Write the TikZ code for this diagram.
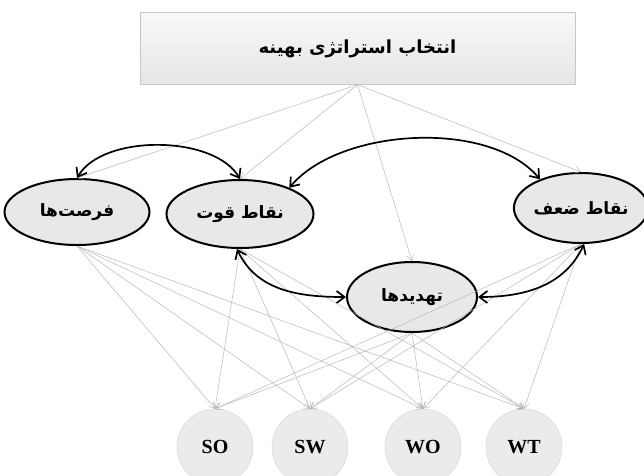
\documentclass[tikz,border=0pt]{standalone}
\usepackage{fontspec}
\usepackage{tikz}
\usetikzlibrary{shapes.geometric,arrows.meta}
\setmainfont{Liberation Serif}
\newfontfamily\farsi[Script=Arabic]{DejaVu Sans}
\TeXXeTstate=1
\newcommand{\Fa}[1]{{\farsi\bfseries\beginR #1\endR}}
\newcommand{\Row}{-447}
\newcommand{\Circ}{76pt}

\begin{document}
\begin{tikzpicture}[x=1pt,y=1pt,
  goal/.style={draw=gray!45,top color=gray!5,bottom color=gray!20,minimum width=435pt,minimum height=72pt},
  factor/.style={ellipse,draw=black,line width=2pt,fill=gray!18,inner sep=0pt,font=\fontsize{17}{20}\selectfont},
  strat/.style={circle,draw=gray!35,fill=gray!16,minimum size=\Circ,inner sep=0pt,font=\fontsize{20}{24}\selectfont\bfseries},
  link/.style={draw=gray!60,line width=0.45pt,-{Straight Barb[length=6pt,width=7pt]}},
  mutual/.style={line width=1.7pt,{Straight Barb[length=8pt,width=12pt]}-{Straight Barb[length=8pt,width=12pt]}}]
\useasboundingbox (0,0) rectangle (644,-475);

\node[goal] (goal) at (357.5,-48.5) {\fontsize{18}{22}\selectfont\Fa{انتخاب استراتژی بهینه}};

\node[factor,minimum width=145pt,minimum height=66pt] (fo) at (77,-212) {\Fa{فرصت^^^^200cها}};% Opportunities
\node[factor,minimum width=147pt,minimum height=68pt] (st) at (240,-214) {\Fa{نقاط قوت}};% Strengths
\node[factor,minimum width=126pt,minimum height=70pt] (we) at (581,-208) {\Fa{نقاط ضعف}};% Weaknesses
\node[factor,minimum width=130pt,minimum height=70pt] (th) at (412,-297) {\Fa{تهدیدها}};% Threats

\node[strat] (so) at (215,\Row) {SO};
\node[strat] (sw) at (310,\Row) {SW};
\node[strat] (wo) at (423,\Row) {WO};
\node[strat] (wt) at (524,\Row) {WT};

%% goal down to the four factors
\foreach \f in {fo,st,th,we}{
    \draw[link] (goal.south) -- (\f.north);
}
%% every factor to every strategy
\foreach \f in {fo,st,th,we}{
    \foreach \s in {so,sw,wo,wt}{
        \draw[link] (\f.south) -- (\s.north);
    }
}

\draw[mutual] (fo.north) to[out=60,in=120,looseness=0.8] (st.north);
\draw[mutual] (st.28) to[out=50,in=130,looseness=0.8] (we.145);
\draw[mutual] (st.265) to[out=-65,in=180] (th.west);
\draw[mutual] (th.east) to[out=0,in=-115] (we.275);
\end{tikzpicture}
\end{document}
